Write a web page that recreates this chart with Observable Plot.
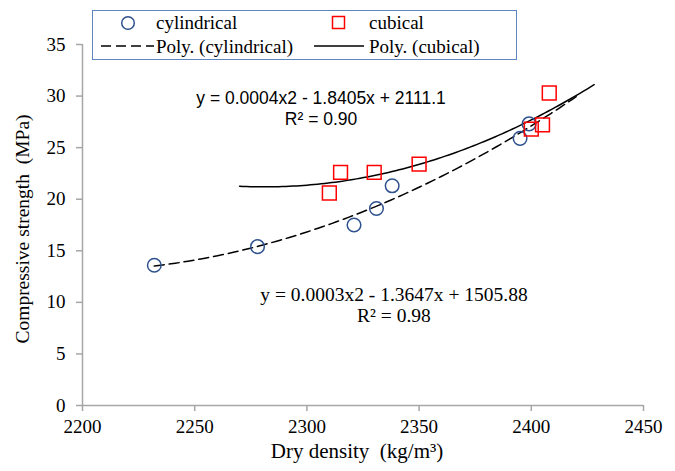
<!DOCTYPE html>
<html>
<head>
<meta charset="utf-8">
<script src="https://cdn.jsdelivr.net/npm/d3@7"></script>
<script src="https://cdn.jsdelivr.net/npm/@observablehq/plot@0.6"></script>
<style>
  html, body { margin: 0; padding: 0; background: #fff; }
  #wrap { position: relative; width: 675px; height: 471px; font-family: "Liberation Serif", "Times New Roman", serif; }
  #legend { position: absolute; left: 92px; top: 10px; width: 425px; height: 50px; border: 1.3px solid #5b86c0; background: #fff; box-sizing: border-box; }
  .lg { position: absolute; font-size: 19px; line-height: 19px; color: #000; white-space: nowrap; }
  .sw { position: absolute; }
</style>
</head>
<body>
<div id="wrap"></div>
<script>
// ---- data ----
const cylDensity  = [2232, 2278, 2321, 2331, 2338, 2395, 2399];
const cylStrength = [13.6, 15.4, 17.5, 19.1, 21.3, 25.9, 27.3];
const cubDensity  = [2310, 2315, 2330, 2350, 2400, 2405, 2408];
const cubStrength = [20.6, 22.6, 22.6, 23.4, 26.8, 27.2, 30.3];
const xTicks = [2200, 2250, 2300, 2350, 2400, 2450];
const yTicks = [0, 5, 10, 15, 20, 25, 30, 35];
// trendline extents (Excel forecast)
const cylTrendRange = [2232, 2420];
const cubTrendRange = [2270, 2428];
const seriesNames = ["cylindrical", "cubical"];
const trendNames = ["Poly. (cylindrical)", "Poly. (cubical)"];
const eqCyl = "y = 0.0003x2 - 1.3647x + 1505.88\nR² = 0.98";
const eqCub = "y = 0.0004x2 - 1.8405x + 2111.1\nR² = 0.90";
const eqCylPos = [2338.8, 9.75];
const eqCubPos = [2306.3, 28.9];
const xLabel = "Dry density  (kg/m³)";
const yLabel = "Compressive strength  (MPa)";

// quadratic least squares fit
function polyfit2(xs, ys) {
  const m = d3.mean(xs);
  const u = xs.map(x => x - m);
  let S = [[0,0,0],[0,0,0],[0,0,0]], B = [0,0,0];
  u.forEach((t, i) => {
    const p = [1, t, t*t];
    for (let a = 0; a < 3; a++) { B[a] += p[a]*ys[i]; for (let b = 0; b < 3; b++) S[a][b] += p[a]*p[b]; }
  });
  const A = S.map((r, i) => [...r, B[i]]);
  for (let i = 0; i < 3; i++) {
    let piv = i; for (let k = i+1; k < 3; k++) if (Math.abs(A[k][i]) > Math.abs(A[piv][i])) piv = k;
    [A[i], A[piv]] = [A[piv], A[i]];
    for (let k = i+1; k < 3; k++) { const f = A[k][i]/A[i][i]; for (let j = i; j < 4; j++) A[k][j] -= f*A[i][j]; }
  }
  const c = [0,0,0];
  for (let i = 2; i >= 0; i--) { let s = A[i][3]; for (let j = i+1; j < 3; j++) s -= A[i][j]*c[j]; c[i] = s/A[i][i]; }
  return x => { const t = x - m; return c[0] + c[1]*t + c[2]*t*t; };
}
function curve(xs, ys, range) {
  const f = polyfit2(xs, ys);
  return d3.range(range[0], range[1] + 0.001, (range[1]-range[0])/100).map(x => ({x, y: f(x)}));
}

const cyl = cylDensity.map((x, i) => ({x, y: cylStrength[i]}));
const cub = cubDensity.map((x, i) => ({x, y: cubStrength[i]}));
const cylFit = curve(cylDensity, cylStrength, cylTrendRange);
const cubFit = curve(cubDensity, cubStrength, cubTrendRange);

const axisColor = "#a6a6a6";
const serif = "Liberation Serif";

const chart = Plot.plot({
  width: 675,
  height: 471,
  marginLeft: 82,
  marginRight: 32,
  marginTop: 44,
  marginBottom: 66,
  style: { fontFamily: serif, fontSize: "19px", background: "#fff", color: "#000", overflow: "visible" },
  x: { domain: [2200, 2450], ticks: xTicks },
  y: { domain: [0, 35], ticks: yTicks },
  marks: [
    Plot.axisX({ ticks: xTicks, tickSize: 6, tickPadding: 8, stroke: axisColor, strokeWidth: 1.5, strokeOpacity: 1, fill: "#000", fontSize: 19, fontFamily: serif, label: null, tickFormat: d => String(d) }),
    Plot.axisY({ ticks: yTicks, tickSize: 6, tickPadding: 11, stroke: axisColor, strokeWidth: 1.5, strokeOpacity: 1, fill: "#000", fontSize: 19, fontFamily: serif, label: null }),
    Plot.ruleY([0], { stroke: axisColor, strokeWidth: 1.5 }),
    Plot.ruleX([2200], { stroke: axisColor, strokeWidth: 1.5 }),
    Plot.text([xLabel], { frameAnchor: "bottom", textAnchor: "middle", dx: -6, dy: 52, fontSize: 21, fontFamily: serif, fill: "#000" }),
    Plot.text([yLabel], { frameAnchor: "left", textAnchor: "middle", dx: -60, dy: 4, rotate: -90, fontSize: 19.5, fontFamily: serif, fill: "#000" }),
    Plot.line(cylFit, { x: "x", y: "y", stroke: "#000", strokeWidth: 1.5, strokeDasharray: "10,5" }),
    Plot.line(cubFit, { x: "x", y: "y", stroke: "#000", strokeWidth: 1.5 }),
    Plot.dot(cyl, { x: "x", y: "y", r: 6.8, stroke: "#2f528f", strokeWidth: 1.5, fill: "none" }),
    Plot.dot(cub, { x: "x", y: "y", r: 7.8, symbol: "square", stroke: "#ff0000", strokeWidth: 1.5, fill: "none" }),
    Plot.text([eqCub], { x: () => eqCubPos[0], y: () => eqCubPos[1], fontFamily: "Liberation Sans", fontSize: 17.5, lineHeight: 1.2, fill: "#000", textAnchor: "middle" }),
    Plot.text([eqCyl], { x: () => eqCylPos[0], y: () => eqCylPos[1], fontFamily: serif, fontSize: 19.5, lineHeight: 1.08, fill: "#000", textAnchor: "middle" })
  ]
});

const wrap = document.getElementById("wrap");
wrap.appendChild(chart);

// legend (HTML, above the plot)
const lg = document.createElement("div");
lg.id = "legend";
lg.innerHTML = `
  <svg class="sw" style="left:27px;top:4px" width="16" height="16"><circle cx="8" cy="8" r="6.3" fill="none" stroke="#2f528f" stroke-width="1.5"/></svg>
  <div class="lg" style="left:63px;top:2px">${seriesNames[0]}</div>
  <svg class="sw" style="left:238px;top:4px" width="16" height="16"><rect x="1.5" y="1.5" width="12" height="12" fill="none" stroke="#ff0000" stroke-width="1.5"/></svg>
  <div class="lg" style="left:276px;top:2px">${seriesNames[1]}</div>
  <svg class="sw" style="left:7px;top:30px" width="56" height="10"><line x1="1" y1="5" x2="54" y2="5" stroke="#000" stroke-width="1.5" stroke-dasharray="10,5"/></svg>
  <div class="lg" style="left:63px;top:26px">${trendNames[0]}</div>
  <svg class="sw" style="left:220px;top:30px" width="52" height="10"><line x1="1" y1="5" x2="51" y2="5" stroke="#000" stroke-width="1.5"/></svg>
  <div class="lg" style="left:276px;top:26px">${trendNames[1]}</div>
`;
wrap.appendChild(lg);
</script>
</body>
</html>
